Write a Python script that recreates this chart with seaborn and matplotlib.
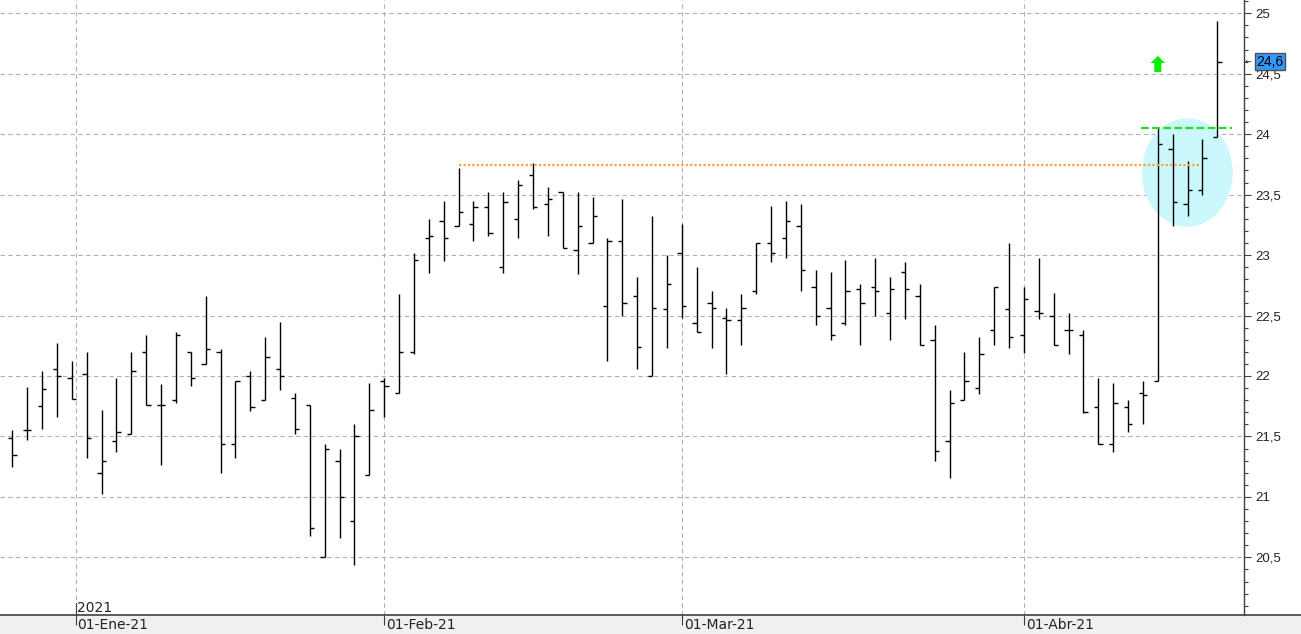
import numpy as np
import pandas as pd
import matplotlib
matplotlib.use('Agg')
import matplotlib.pyplot as plt
import matplotlib.transforms as mtransforms
from matplotlib.patches import Ellipse, Polygon, Rectangle
from matplotlib.lines import Line2D
from matplotlib.ticker import MultipleLocator, FuncFormatter
import seaborn as sns

# ---------------- data ----------------
holidays = ['2020-12-25', '2021-01-01', '2021-04-02', '2021-04-05']
month_starts = ['2021-01-01', '2021-02-01', '2021-03-01', '2021-04-01']
month_labels = ['01-Ene-21', '01-Feb-21', '01-Mar-21', '01-Abr-21']
year_label = '2021'

open_ = [21.49, 21.55, 21.75, 22.06, 21.98, 22.02, 21.20, 21.46, 21.52, 22.20,
         21.76, 21.80, 22.20, 22.10, 22.20, 21.44, 22.00, 21.80, 22.06, 21.82,
         21.76, 20.50, 21.30, 20.80, 21.18, 21.96, 21.86, 22.20, 23.14, 23.28,
         23.24, 23.26, 23.40, 22.90, 23.30, 23.66, 23.42, 23.52, 23.04, 23.10,
         22.58, 23.12, 22.66, 22.00, 22.55, 23.02, 22.44, 22.60, 22.48, 22.46,
         22.70, 23.10, 23.14, 23.24, 22.74, 22.56, 22.44, 22.72, 22.74, 22.52,
         22.86, 22.66, 22.30, 21.46, 21.80, 21.90, 22.38, 22.55, 22.34, 22.54,
         22.50, 22.38, 22.34, 21.74, 21.44, 21.74, 21.86, 21.96, 23.88, 23.42,
         23.54, 23.98]
high = [21.55, 21.91, 22.04, 22.27, 22.12, 22.20, 21.72, 21.98, 22.20, 22.34,
        21.93, 22.36, 22.20, 22.66, 22.22, 21.96, 22.04, 22.32, 22.45, 21.86,
        21.76, 21.44, 21.40, 21.60, 21.94, 21.98, 22.68, 23.02, 23.30, 23.45,
        23.72, 23.45, 23.52, 23.52, 23.62, 23.76, 23.56, 23.52, 23.52, 23.48,
        23.14, 23.46, 22.82, 23.32, 23.00, 23.26, 22.90, 22.70, 22.56, 22.68,
        23.10, 23.41, 23.45, 23.42, 22.88, 22.86, 22.96, 22.76, 22.98, 22.82,
        22.94, 22.76, 22.42, 21.88, 22.20, 22.32, 22.74, 23.10, 22.74, 22.98,
        22.69, 22.52, 22.38, 21.98, 21.94, 21.80, 21.96, 24.05, 24.00, 23.78,
        23.96, 24.94]
low = [21.25, 21.47, 21.56, 21.66, 21.81, 21.32, 21.02, 21.37, 21.52, 21.76,
       21.26, 21.78, 21.92, 22.10, 21.20, 21.32, 21.71, 21.80, 21.88, 21.52,
       20.68, 20.50, 20.66, 20.44, 21.18, 21.66, 21.86, 22.18, 22.85, 22.95,
       23.24, 23.12, 23.16, 22.85, 23.14, 23.38, 23.16, 23.06, 22.84, 23.10,
       22.12, 22.50, 22.06, 22.00, 22.23, 22.48, 22.36, 22.23, 22.02, 22.26,
       22.68, 22.94, 22.98, 22.70, 22.42, 22.30, 22.42, 22.26, 22.50, 22.30,
       22.47, 22.26, 21.30, 21.16, 21.80, 21.85, 22.26, 22.23, 22.19, 22.47,
       22.26, 22.18, 21.69, 21.44, 21.37, 21.54, 21.60, 21.96, 23.24, 23.32,
       23.50, 23.98]
close = [21.35, 21.55, 21.89, 22.00, 21.81, 21.49, 21.30, 21.54, 22.04, 21.76,
         21.76, 22.34, 21.98, 22.22, 21.44, 21.96, 21.74, 22.16, 22.00, 21.56,
         20.74, 21.40, 21.00, 21.50, 21.72, 21.92, 22.20, 22.96, 23.16, 23.14,
         23.36, 23.40, 23.18, 23.44, 23.58, 23.40, 23.46, 23.06, 23.24, 23.32,
         23.12, 22.60, 22.24, 22.56, 22.76, 22.58, 22.36, 22.56, 22.46, 22.56,
         23.10, 23.02, 23.28, 22.88, 22.50, 22.34, 22.70, 22.60, 22.70, 22.72,
         22.72, 22.26, 21.38, 21.78, 21.96, 22.18, 22.74, 22.32, 22.64, 22.52,
         22.26, 22.38, 21.70, 21.44, 21.78, 21.60, 21.84, 23.92, 23.44, 23.54,
         23.80, 24.60]

last_price = 24.6
resistance_level = 23.745      # orange dotted line
breakout_level = 24.05         # green dashed line

# ---------------- derived positions ----------------
dates = pd.bdate_range('2020-12-24', '2021-04-22')
dates = dates[~dates.isin(pd.to_datetime(holidays))]
n = len(dates)
x = np.arange(n)
ms = pd.to_datetime(month_starts)
tick_pos = np.interp(ms.asi8, dates.asi8, x)

# ---------------- style ----------------
sns.set_theme(style='white')
plt.rcParams['font.family'] = ['Liberation Sans', 'DejaVu Sans']

W, H = 1301, 634
fig = plt.figure(figsize=(W / 100, H / 100), dpi=100)
fig.patch.set_facecolor('white')
ax_bottom_px = 19
ax_right_px = 1244
ax = fig.add_axes([0, ax_bottom_px / H, ax_right_px / W, (H - ax_bottom_px) / H])

px_per_bar = 14.877
x0_px = 12.3
ax.set_xlim((0 - x0_px) / px_per_bar, (ax_right_px - x0_px) / px_per_bar)
ax.set_ylim(20.023, 25.110)

# gridlines
ax.set_yticks(np.arange(20.5, 25.01, 0.5))
ax.yaxis.set_minor_locator(MultipleLocator(0.1))
ax.yaxis.set_major_formatter(FuncFormatter(lambda v, _: f'{v:g}'.replace('.', ',')))
ax.yaxis.tick_right()
ax.set_xticks(tick_pos)
ax.set_xticklabels([])
ax.grid(True, axis='both', which='major', color='#B0B0B0', lw=0.8, ls=(0, (4, 3)))
ax.set_axisbelow(True)

for s in ['left', 'top', 'bottom']:
    ax.spines[s].set_visible(False)
ax.spines['right'].set_color('#404040')
ax.spines['right'].set_linewidth(1.0)

ax.tick_params(axis='y', which='major', direction='out', length=5, width=0.8,
               color='#404040', labelsize=9.5, labelcolor='#222222', pad=3,
               right=True, left=False)
ax.tick_params(axis='y', which='minor', direction='out', length=3, width=0.8,
               color='#404040', right=True, left=False)
ax.tick_params(axis='x', which='major', direction='out', length=7.5, width=0.8,
               color='#404040', bottom=True, labelbottom=False)

# highlight ellipse
ell = Ellipse((78.98, 23.683), 6.10, 0.897, facecolor='#CBF8FC', edgecolor='none', zorder=1)
ax.add_patch(ell)

# OHLC bars
bar_kw = dict(color='black', lw=1.0, zorder=3)
ax.vlines(x, low, high, **bar_kw)
ax.hlines(open_, x - 0.29, x, **bar_kw)
ax.hlines(close, x, x + 0.29, **bar_kw)

# resistance lines
ax.hlines(resistance_level, 30, 79.8, color='#FFA040', lw=1.6, ls=(0, (1, 1)), zorder=4)
ax.hlines(breakout_level, 75.9, 82.0, color='#22DD22', lw=1.6, ls=(0, (3.5, 1.5)), zorder=4)

# green up arrow
arrow_px = np.array([(0, 0), (7.3, -7), (3.5, -7), (3.5, -16), (-3.5, -16), (-3.5, -7), (-7.3, -7)])
arr_tr = mtransforms.Affine2D() + mtransforms.ScaledTranslation(77, 24.647, ax.transData)
ax.add_patch(Polygon(arrow_px, closed=True, transform=arr_tr, facecolor='#00F000',
                     edgecolor='none', zorder=5))

# last price box
blend_ax_data = mtransforms.blended_transform_factory(ax.transAxes, ax.transData)
ax.text(1256.5 / ax_right_px, last_price, f'{last_price:g}'.replace('.', ','),
        transform=blend_ax_data, ha='left', va='center', fontsize=10, color='black',
        bbox=dict(boxstyle='square,pad=0.12', fc='#3399FF', ec='#505050', lw=1.0),
        clip_on=False, zorder=6)
ax.text(1244.5 / ax_right_px, last_price + 0.005, '←', transform=blend_ax_data,
        ha='left', va='center', fontsize=6, color='#333333', family=['DejaVu Sans'],
        clip_on=False)

# x labels drawn below axis
blend_data_ax = mtransforms.blended_transform_factory(ax.transData, ax.transAxes)
ax_h_px = H - ax_bottom_px
narrow = ['Liberation Sans Narrow', 'DejaVu Sans']
for p, lab in zip(tick_pos, month_labels):
    ax.text(p + 2.0 / px_per_bar, -10 / ax_h_px, lab, transform=blend_data_ax,
            ha='left', va='center', fontsize=10, family=narrow, color='#222222',
            clip_on=False)
# year marker
ax.plot([tick_pos[0], tick_pos[0]], [0, 12 / ax_h_px], transform=blend_data_ax,
        color='#404040', lw=0.8, clip_on=False, zorder=5)
ax.text(tick_pos[0] + 1.5 / px_per_bar, 7.5 / ax_h_px, year_label, transform=blend_data_ax,
        ha='left', va='center', fontsize=10, family=narrow, color='#222222', clip_on=False)

# bottom strip and axis line
fig.patches.append(Rectangle((0, 0), 1, ax_bottom_px / H, transform=fig.transFigure,
                             facecolor='#F0F0F0', edgecolor='none', zorder=-5))
fig.lines.append(Line2D([0, 1], [ax_bottom_px / H, ax_bottom_px / H], transform=fig.transFigure,
                        color='#404040', lw=1.2, zorder=5))

fig.savefig('out.png', dpi=100, facecolor='white')
